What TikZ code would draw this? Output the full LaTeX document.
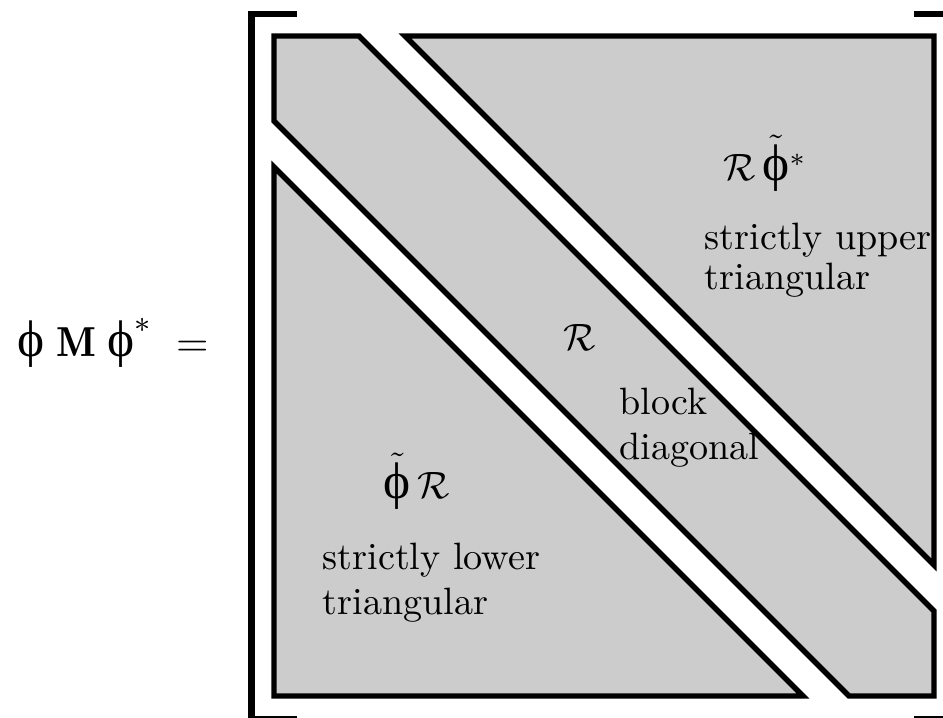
\documentclass[tikz,border=0pt]{standalone}
\usepackage{fontspec}
\usepackage{amsmath,amssymb}
\newfontfamily\grkfont{Liberation Serif}
\newcommand{\grkphi}{\mbox{\grkfont\fontsize{13.5}{14}\selectfont ϕ}}
\usetikzlibrary{positioning,calc}

\begin{document}
\begin{tikzpicture}[x=0.2625pt,y=-0.2625pt,
  cell/.style={draw=black,fill=black!20,line width=1.4pt,line join=miter},
  bracket/.style={draw=black,line width=1.65pt,line join=miter},
  txt/.style={inner sep=0pt,align=left}]
\useasboundingbox (0,0) rectangle (943,717);
\draw[bracket] (297,13.8) -- (251.5,13.8) -- (251.5,719) -- (297,719);
\draw[bracket] (914,13.8) -- (957,13.8) -- (957,719) -- (914,719);
\draw[cell] (274,36) -- (359,36) -- (934,611) -- (934,696) -- (849,696) -- (274,121) -- cycle;
\draw[cell] (405,36) -- (934,36) -- (934,565) -- cycle;
\draw[cell] (274,167) -- (803,696) -- (274,696) -- cycle;
\node[txt,anchor=base west,font=\fontsize{11}{13}\selectfont] (lhs) at (17,356) {$\grkphi\;\mathbf{M}\;\grkphi^{*} \;=$};
\node[txt,anchor=base west] (upR) at (723,180) {$\mathcal{R}\,\tilde{\grkphi}{}^{*}$};
\node[txt,anchor=north west] (upTxt) at (704,222) {strictly upper\\[-1.5pt] triangular};
\node[txt] (diagR) at (580,337) {$\mathcal{R}$};
\node[txt,anchor=north west] (diagTxt) at (619,387) {block\\ diagonal};
\node[txt,anchor=base west] (lowR) at (383,498) {$\tilde{\grkphi}\,\mathcal{R}$};
\node[txt,anchor=north west] (lowTxt) at (322,542) {strictly lower\\ triangular};
\end{tikzpicture}
\end{document}
